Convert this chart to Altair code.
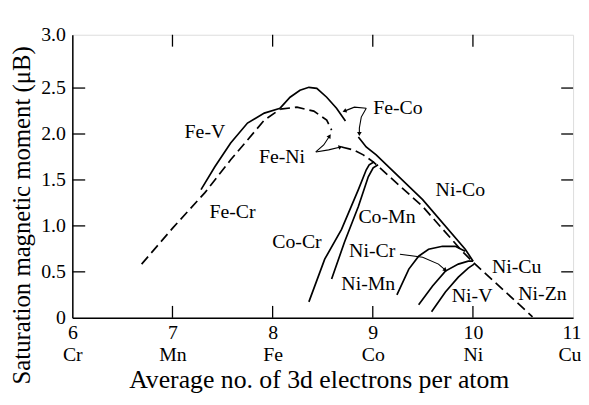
import math
import altair as alt
import pandas as pd

W, H = 506, 286
YMAX = 3.08
FONT = "Liberation Serif"

# ---------------- data ----------------
fe_v_x = [7.285, 7.423, 7.581, 7.749, 7.917, 8.075]
fe_v_y = [1.395, 1.643, 1.903, 2.119, 2.227, 2.281]

fe_co1_x = [8.075, 8.174, 8.273, 8.362, 8.441, 8.540, 8.638, 8.727]
fe_co1_y = [2.281, 2.400, 2.476, 2.508, 2.497, 2.400, 2.281, 2.141]

ni_co_x = [8.856, 8.934, 9.034, 9.498, 9.923, 10.002]
ni_co_y = [1.968, 1.859, 1.773, 1.286, 0.746, 0.616]

fe_cr_x = [6.692, 7.008, 7.324, 7.581, 7.749, 7.917, 8.075]
fe_cr_y = [0.584, 0.984, 1.362, 1.719, 1.935, 2.151, 2.270]

fe_ni1_x = [8.075, 8.243, 8.411, 8.540, 8.589]
fe_ni1_y = [2.270, 2.292, 2.249, 2.151, 2.043]

fe_ni2_x = [8.688, 8.806, 8.905, 9.004, 9.498, 9.893, 10.002, 10.595]
fe_ni2_y = [1.859, 1.827, 1.773, 1.697, 1.211, 0.724, 0.605, 0.011]

co_cr_x = [8.362, 8.520, 8.688, 8.856, 8.935, 8.964, 9.014]
co_cr_y = [0.173, 0.638, 0.962, 1.395, 1.611, 1.665, 1.697]

co_mn_x = [8.589, 8.717, 8.856, 8.955, 9.004, 9.053]
co_mn_y = [0.422, 0.822, 1.211, 1.535, 1.632, 1.665]

ni_a_x = [9.241, 9.360, 9.458, 9.557, 9.696, 9.824, 9.923]
ni_a_y = [0.249, 0.530, 0.670, 0.746, 0.778, 0.778, 0.724]

ni_b_x = [9.458, 9.597, 9.725, 9.854, 9.953, 10.002]
ni_b_y = [0.141, 0.346, 0.508, 0.584, 0.616, 0.616]

ni_c_x = [9.587, 9.725, 9.854, 9.953, 10.012]
ni_c_y = [0.065, 0.281, 0.443, 0.541, 0.584]

# arrows (label -> curve)
arr_feco1_x = [8.935, 8.816, 8.717]
arr_feco1_y = [2.281, 2.292, 2.249]
arr_feco2_x = [8.935, 8.885, 8.866, 8.866]
arr_feco2_y = [2.281, 2.184, 2.065, 2.000]
arr_feni1_x = [8.431, 8.510, 8.569]
arr_feni1_y = [1.805, 1.881, 1.978]
arr_feni2_x = [8.431, 8.559, 8.678]
arr_feni2_y = [1.805, 1.827, 1.859]
arr_nicr_x = [9.271, 9.498, 9.656, 9.725]
arr_nicr_y = [0.692, 0.659, 0.584, 0.519]

label_text = ["Fe-V", "Fe-Cr", "Fe-Ni", "Fe-Co", "Ni-Co", "Co-Mn", "Co-Cr",
              "Ni-Cr", "Ni-Mn", "Ni-Cu", "Ni-V", "Ni-Zn"]
label_x = [7.324, 7.600, 8.094, 9.251, 9.874, 9.142, 8.243,
           8.994, 8.955, 10.437, 9.992, 10.694]
label_y = [2.022, 1.146, 1.751, 2.281, 1.395, 1.092, 0.822,
           0.724, 0.368, 0.551, 0.238, 0.259]

x_ticks = [6, 7, 8, 9, 10, 11]
elements = ["Cr", "Mn", "Fe", "Co", "Ni", "Cu"]
inner_x_ticks = [7, 8, 9, 10]
y_ticks = [0, 0.5, 1.0, 1.5, 2.0, 2.5, YMAX]
inner_y_ticks = [0.5, 1.0, 1.5, 2.0, 2.5]

# ---------------- tables ----------------
def table(groups):
    rows = []
    for name, xs, ys in groups:
        for i, (a, b) in enumerate(zip(xs, ys)):
            rows.append({"series": name, "i": i, "x": a, "y": b})
    return pd.DataFrame(rows)

solid = table([
    ("Fe-V", fe_v_x, fe_v_y), ("Fe-Co 1", fe_co1_x, fe_co1_y),
    ("Ni-Co", ni_co_x, ni_co_y), ("Co-Cr", co_cr_x, co_cr_y),
    ("Co-Mn", co_mn_x, co_mn_y), ("Ni-A", ni_a_x, ni_a_y),
    ("Ni-B", ni_b_x, ni_b_y), ("Ni-C", ni_c_x, ni_c_y),
])
dashed = table([
    ("Fe-Cr", fe_cr_x, fe_cr_y), ("Fe-Ni 1", fe_ni1_x, fe_ni1_y),
    ("Fe-Ni 2", fe_ni2_x, fe_ni2_y),
])
arrow_groups = [
    ("a1", arr_feco1_x, arr_feco1_y), ("a2", arr_feco2_x, arr_feco2_y),
    ("a3", arr_feni1_x, arr_feni1_y), ("a4", arr_feni2_x, arr_feni2_y),
    ("a5", arr_nicr_x, arr_nicr_y),
]
arrows = table(arrow_groups)

sx, sy = W / 5.0, H / YMAX
heads = []
for name, xs, ys in arrow_groups:
    dx = (xs[-1] - xs[-2]) * sx
    dy = -(ys[-1] - ys[-2]) * sy
    ang = math.degrees(math.atan2(dx, -dy)) % 360
    heads.append({"x": xs[-1], "y": ys[-1], "ang": ang})
heads = pd.DataFrame(heads)

labels = pd.DataFrame({"t": label_text, "x": label_x, "y": label_y})

xs_scale = alt.Scale(domain=[6, 11], nice=False, zero=False)
ys_scale = alt.Scale(domain=[0, YMAX], nice=False, zero=False)

x_axis = alt.Axis(
    values=x_ticks, tickSize=0, grid=False, domainColor="black", domainWidth=1.5,
    labelExpr="[datum.label, ['Cr','Mn','Fe','Co','Ni','Cu'][round(datum.value)-6]]",
    labelFont=FONT, labelFontSize=20, labelColor="black", labelPadding=5,
    labelBaseline="top", labelLineHeight=22, labelFlush=False,
    labelAlign={"condition": {"test": "datum.value == 11", "value": "right"}, "value": "center"},
    labelOffset={"condition": {"test": "datum.value == 11", "value": 8}, "value": 0},
    title="Average no. of 3d electrons per atom", titleFont=FONT,
    titleFontSize=26, titleFontWeight="normal", titleColor="black",
    titleY=62, titleBaseline="middle", titleX=249, titleAlign="center",
)
y_axis = alt.Axis(
    values=y_ticks, tickSize=0, grid=False, domainColor="black", domainWidth=1.5,
    labelExpr="datum.value == 0 ? '0' : (datum.value > 3 ? '3.0' : format(datum.value, '.1f'))",
    labelFont=FONT, labelFontSize=20, labelColor="black", labelPadding=7,
    labelFlush=False,
    title="Saturation magnetic moment (μB)", titleFont=FONT, titleFontSize=25,
    titleFontWeight="normal", titleColor="black", titleX=-51, titleY=182,
    titleAngle=270, titleAlign="center", titleBaseline="middle",
)

X = lambda: alt.X("x:Q", scale=xs_scale, axis=x_axis)
Y = lambda: alt.Y("y:Q", scale=ys_scale, axis=y_axis)

solid_layer = alt.Chart(solid).mark_line(color="black", strokeWidth=1.7).encode(
    x=X(), y=Y(), detail="series:N", order="i:Q")
dashed_layer = alt.Chart(dashed).mark_line(
    color="black", strokeWidth=1.7, strokeDash=[10, 5]).encode(
    x=X(), y=Y(), detail="series:N", order="i:Q")
arrow_layer = alt.Chart(arrows).mark_line(color="black", strokeWidth=1.1).encode(
    x=X(), y=Y(), detail="series:N", order="i:Q")
head_layer = alt.Chart(heads).mark_point(
    shape="triangle-up", filled=True, color="black", size=22, opacity=1).encode(
    x=X(), y=Y(), angle=alt.Angle("ang:Q", scale=None))
text_layer = alt.Chart(labels).mark_text(
    font=FONT, fontSize=20, color="black", align="center", baseline="middle").encode(
    x=X(), y=Y(), text="t:N")

tick_bx = pd.DataFrame({"x": inner_x_ticks})
tick_y = pd.DataFrame({"y": inner_y_ticks})
bottom_ticks = alt.Chart(tick_bx).mark_rule(color="black", strokeWidth=1.3).encode(
    x=X(), y=alt.value(H), y2=alt.value(H - 12))
top_ticks = alt.Chart(tick_bx).mark_rule(color="black", strokeWidth=1.3).encode(
    x=X(), y=alt.value(0), y2=alt.value(12))
left_ticks = alt.Chart(tick_y).mark_rule(color="black", strokeWidth=1.3).encode(
    y=Y(), x=alt.value(0), x2=alt.value(13))
right_ticks = alt.Chart(tick_y).mark_rule(color="black", strokeWidth=1.3).encode(
    y=Y(), x=alt.value(W), x2=alt.value(W - 12))

chart = alt.layer(
    bottom_ticks, top_ticks, left_ticks, right_ticks,
    dashed_layer, solid_layer, arrow_layer, head_layer, text_layer,
).properties(
    width=W, height=H,
    autosize=alt.AutoSizeParams(type="none"),
    padding={"left": 65, "top": 25, "right": 8, "bottom": 78},
).configure_view(
    stroke="black", strokeWidth=1.5
).configure(background="white")

chart.save("out.html", embed_options={"renderer": "svg", "actions": False})
